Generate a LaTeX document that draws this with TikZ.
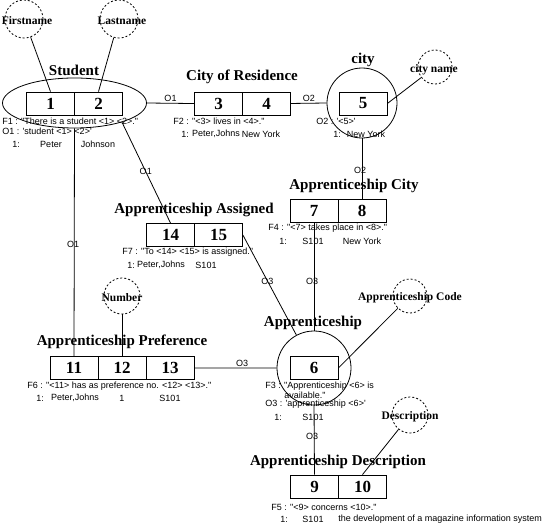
\documentclass[tikz,border=0pt]{standalone}
\usepackage{fontspec}
\setmainfont{Liberation Serif}
\newfontfamily\factfont{Liberation Sans}
\usetikzlibrary{shapes.geometric}
\usetikzlibrary{positioning}
\usetikzlibrary{matrix}

\tikzset{
  cell/.style={draw, minimum width=48pt, minimum height=23pt, inner sep=0pt,
    font=\fontsize{17}{17}\selectfont\bfseries},
  boxrow/.style={matrix of nodes, nodes={cell}, column sep=-0.8pt, inner sep=0pt},
  entity/.style={draw, circle, inner sep=0pt},
  attr/.style={draw, circle, dash pattern=on 2pt off 2pt, inner sep=0pt},
  attrname/.style={inner sep=0pt, font=\fontsize{11.5}{12}\selectfont\bfseries},
  typename/.style={inner sep=0pt, font=\fontsize{15}{15}\selectfont\bfseries},
  fact/.style={anchor=west, inner sep=0pt, font=\factfont\fontsize{9}{10}\selectfont},
  val/.style={inner sep=0pt, font=\factfont\fontsize{9}{10}\selectfont},
  role/.style={inner sep=1pt, font=\factfont\fontsize{9}{10}\selectfont},
}

\begin{document}
\begin{tikzpicture}[x=1pt,y=-1pt,line width=0.8pt]
\useasboundingbox (0,0) rectangle (554,524);

% Student
\node[typename] (tstudent) at (74,70) {Student};
\node[draw, ellipse, minimum width=144pt, minimum height=50pt] (student) at (74.5,103) {};
\matrix [boxrow] (mstudent) at (74.5,103.5)
{
|(b1)|{1} & |(b2)|{2} \\
};
\node[attr, minimum size=38pt] (firstname) at (24,19) {};
\node[attrname] at (27,21) {Firstname};
\node[attr, minimum size=38pt] (lastname) at (119,19) {};
\node[attrname] at (122,21) {Lastname};
\draw (firstname) -- (b1.north);
\draw (lastname) -- (b2.north);
\node[fact] at (2,121) {F1 : "There is a student <1> <2>."};
\node[fact] at (2,131) {O1 : 'student <1> <2>'};
\node[fact] at (12,144) {1:};
\node[val] at (51,144) {Peter};
\node[val] at (98,144) {Johnson};

% City of Residence
\node[typename] (tresidence) at (242,77) {City of Residence};
\matrix [boxrow] (mresidence) at (242.5,103.5)
{
|(b3)|{3} & |(b4)|{4} \\
};
\node[fact] at (173,121) {F2 : "<3> lives in <4>."};
\node[fact] at (181,134) {1:};
\node[val] at (216,134) {Peter,Johns};
\node[val] at (261,134) {New York};

% city
\node[typename] (tcity) at (363,60) {city};
\node[entity, minimum size=70pt] (city) at (362,103) {};
\matrix [boxrow] (mcity) at (363,103.5)
{
|(b5)|{5} \\
};
\node[attr, minimum size=34pt] (cityname) at (435,67) {};
\node[attrname] at (434,70) {city name};
\draw (b5.east) -- (cityname);
\node[fact] at (316,121) {O2 : '<5>'};
\node[fact] at (333,134) {1:};
\node[val] at (366,134) {New York};

% Apprenticeship City
\node[typename] (tappcity) at (354,186) {Apprenticeship City};
\matrix [boxrow] (mappcity) at (338,211)
{
|(b7)|{7} & |(b8)|{8} \\
};
\node[fact] at (268,228) {F4 : "<7> takes place in <8>."};
\node[fact] at (279,241) {1:};
\node[val] at (313,241) {S101};
\node[val] at (362,241) {New York};

% Apprenticeship Assigned
\node[typename] (tassigned) at (194,210) {Apprenticeship Assigned};
\matrix [boxrow] (massigned) at (194.5,235)
{
|(b14)|{14} & |(b15)|{15} \\
};
\node[fact] at (122,252) {F7 : "To <14> <15> is assigned."};
\node[fact] at (127,265) {1:};
\node[val] at (161,265) {Peter,Johns};
\node[val] at (206,265) {S101};

% Apprenticeship
\node[typename] (tapp) at (313,323) {Apprenticeship};
\node[entity, minimum size=74pt] (app) at (314,368) {};
\matrix [boxrow] (mapp) at (314,368)
{
|(b6)|{6} \\
};
\node[attr, minimum size=34pt] (appcode) at (410,296) {};
\node[attrname] at (410,298) {Apprenticeship Code};
\draw (b6.east) -- (appcode);
\node[fact] at (265,386) {F3 : "Apprenticeship <6> is};
\node[fact] at (284,395) {available."};
\node[fact] at (265,404) {O3 : 'apprenticeship <6>'};
\node[fact] at (274,417) {1:};
\node[val] at (313,417) {S101};

% Apprenticeship Preference
\node[typename] (tpreference) at (122,342) {Apprenticeship Preference};
\matrix [boxrow] (mpreference) at (122,368)
{
|(b11)|{11} & |(b12)|{12} & |(b13)|{13} \\
};
\node[attr, minimum size=36pt] (number) at (122,296) {};
\node[attrname] at (122,298) {Number};
\draw (number) -- (b12.north);
\node[fact] at (27,386) {F6 : "<11> has as preference no. <12> <13>."};
\node[fact] at (36,398) {1:};
\node[val] at (75,398) {Peter,Johns};
\node[val] at (122,398) {1};
\node[val] at (170,398) {S101};

% Apprenticeship Description
\node[typename] (tdescription) at (338,462) {Apprenticeship Description};
\matrix [boxrow] (mdescription) at (338.5,486.5)
{
|(b9)|{9} & |(b10)|{10} \\
};
\node[attr, minimum size=36pt] (description) at (410,415) {};
\node[attrname] at (410,417) {Description};
\draw (description) -- (b10.north);
\node[fact] at (271,507) {F5 : "<9> concerns <10>."};
\node[fact] at (280,519) {1:};
\node[val] at (313,519) {S101};
\node[fact] at (338,519) {the development of a magazine information system};

% roles
\draw (student.east) -- node[role, above] {O1} (b3.west);
\draw (b4.east) -- node[role, above] {O2} (city.west);
\draw (student.south) -- node[role, pos=.51, xshift=-1pt] {O1} (b11.north);
\draw (student.-22) -- node[role, pos=.49] {O1} (b14.north);
\draw (city.south) -- node[role, pos=.53, xshift=-2pt] {O2} (b8.north);
\draw (b7.south) -- node[role, pos=.545, xshift=-2pt] {O3} (app.north);
\draw (b15.east) -- node[role, pos=.46] {O3} (app);
\draw (b13.east) -- node[role, above, pos=.58] {O3} (app.west);
\draw (app.south) -- node[role, pos=.45, xshift=-2pt] {O3} (b9.north);
\end{tikzpicture}
\end{document}
